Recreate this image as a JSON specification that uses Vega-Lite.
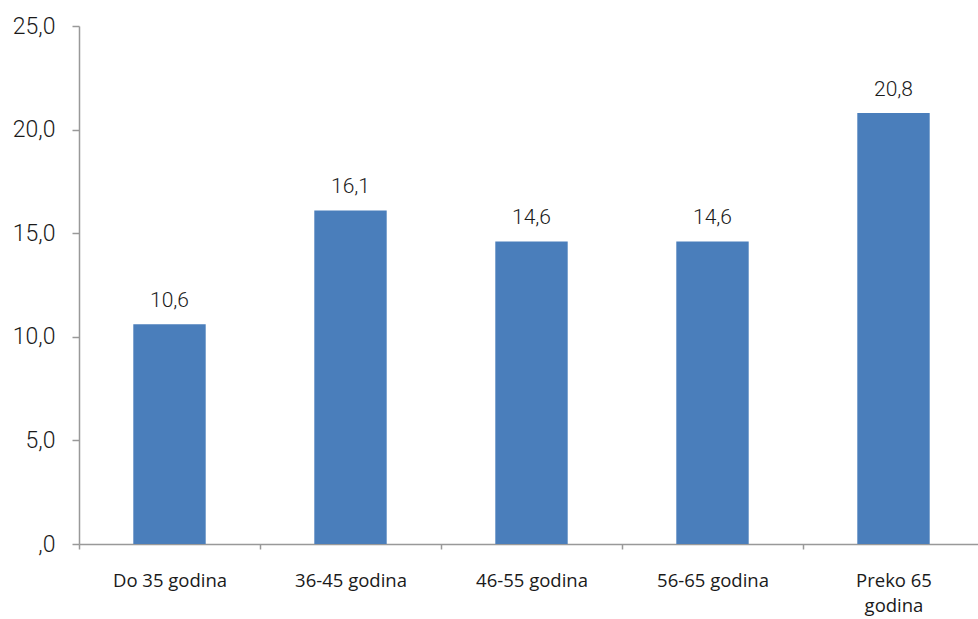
{
  "$schema": "https://vega.github.io/schema/vega-lite/v6.json",
  "autosize": {"type": "none"},
  "padding": {"left": 79, "top": 26, "right": 0, "bottom": 75},
  "width": 899,
  "height": 518,
  "background": "white",
  "config": {
    "view": {"stroke": null},
    "locale": {"number": {"decimal": ",", "thousands": ".", "grouping": [3], "currency": ["", " €"]}}
  },
  "data": {
    "values": [
      {"kategorija": "Do 35 godina", "vrijednost": 10.6},
      {"kategorija": "36-45 godina", "vrijednost": 16.1},
      {"kategorija": "46-55 godina", "vrijednost": 14.6},
      {"kategorija": "56-65 godina", "vrijednost": 14.6},
      {"kategorija": "Preko 65 godina", "vrijednost": 20.8}
    ]
  },
  "encoding": {
    "x": {
      "field": "kategorija",
      "type": "nominal",
      "sort": null,
      "scale": {"range": [0, 905], "paddingInner": 0, "paddingOuter": 0},
      "axis": {
        "title": null,
        "labelAngle": 0,
        "domainColor": "#999999",
        "domainWidth": 1.5,
        "tickColor": "#999999",
        "tickWidth": 1.5,
        "tickSize": 5,
        "tickBand": "extent",
        "labelFont": "Open Sans",
        "labelFontSize": 18.5,
        "labelColor": "#1a1a1a",
        "labelPadding": 22,
        "labelLineHeight": 25,
        "labelExpr": "datum.value == 'Preko 65 godina' ? ['Preko 65', 'godina'] : datum.value"
      }
    },
    "y": {
      "field": "vrijednost",
      "type": "quantitative",
      "scale": {"domain": [0, 25], "nice": false},
      "axis": {
        "title": null,
        "values": [0, 5, 10, 15, 20, 25],
        "grid": false,
        "domainColor": "#999999",
        "domainWidth": 1.5,
        "tickColor": "#999999",
        "tickWidth": 1.5,
        "tickSize": 7,
        "labelFont": "Roboto",
        "labelFontWeight": 300,
        "labelFontSize": 23,
        "labelColor": "#1a1a1a",
        "labelPadding": 17,
        "labelExpr": "datum.value == 0 ? ',0' : format(datum.value, '.1f')"
      }
    }
  },
  "layer": [
    {"mark": {"type": "bar", "color": "#4A7EBB", "width": {"band": 0.4}}},
    {
      "mark": {"type": "text", "baseline": "bottom", "dy": -13, "font": "Roboto", "fontWeight": 300, "fontSize": 21, "color": "#1a1a1a"},
      "encoding": {"text": {"field": "vrijednost", "type": "quantitative", "format": ".1f"}}
    }
  ]
}
